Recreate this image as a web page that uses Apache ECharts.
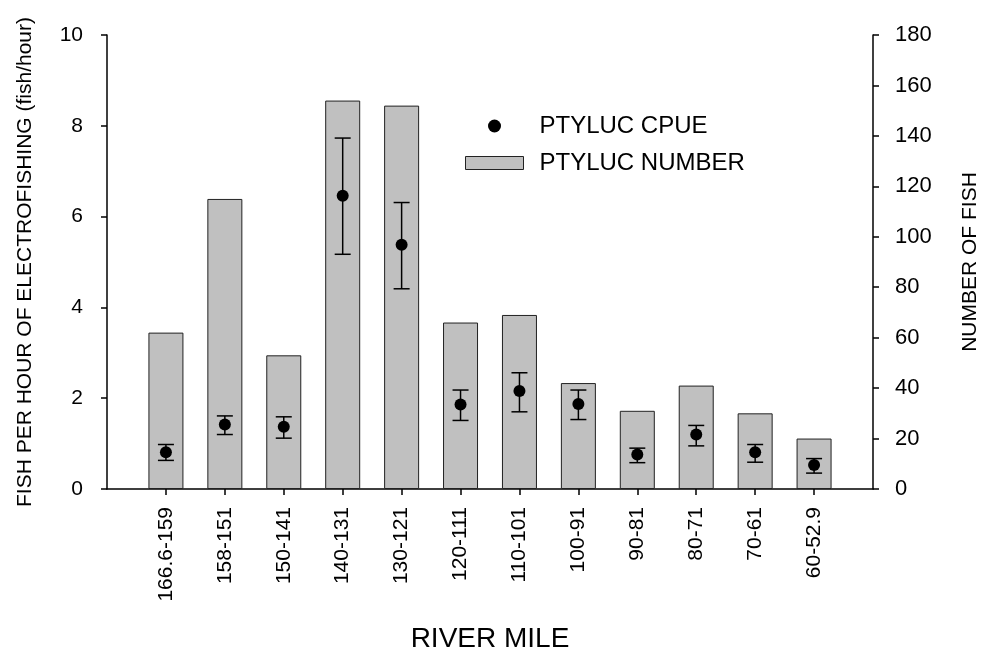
<!DOCTYPE html>
<html>
<head>
<meta charset="utf-8">
<script src="https://cdn.jsdelivr.net/npm/echarts@6/dist/echarts.min.js"></script>
<style>
html, body { margin: 0; padding: 0; background: #fff; }
#chart { width: 984px; height: 651px; }
</style>
</head>
<body>
<div id="chart"></div>
<script>
// river mile reaches
var miles = ['166.6-159', '158-151', '150-141', '140-131', '130-121', '120-111',
             '110-101', '100-91', '90-81', '80-71', '70-61', '60-52.9'];
// catch per hour, with error bar ends
var cpue  = [0.81, 1.42, 1.37, 6.46, 5.38, 1.86, 2.16, 1.87, 0.76, 1.20, 0.81, 0.53];
var upper = [0.98, 1.61, 1.59, 7.73, 6.31, 2.18, 2.56, 2.18, 0.90, 1.40, 0.98, 0.67];
var lower = [0.63, 1.20, 1.12, 5.17, 4.41, 1.51, 1.70, 1.53, 0.58, 0.95, 0.59, 0.35];
// number of fish caught
var counts = [62, 115, 53, 154, 152, 66, 69, 42, 31, 41, 30, 20];

var font = 'Liberation Sans, Arial, sans-serif';

// empty slot at each end so the axis runs past the first and last bar
var cats = [''].concat(miles, ['']);
var barData = ['-'].concat(counts, ['-']);
var dotData = ['-'].concat(cpue, ['-']);
var errData = miles.map(function (m, i) { return [i + 1, lower[i], upper[i]]; });

var myChart = echarts.init(document.getElementById('chart'));

var option = {
  animation: false,
  textStyle: { fontFamily: font },
  grid: { left: 107, right: 111, top: 35, bottom: 162, containLabel: false, outerBoundsMode: 'none' },
  legend: {
    left: 460,
    top: 109,
    orient: 'vertical',
    itemWidth: 58,
    itemHeight: 13,
    itemGap: 13,
    textStyle: { fontFamily: font, fontSize: 24, color: '#000', lineHeight: 24, padding: [0, 0, 0, 11] },
    data: [
      { name: 'PTYLUC CPUE', icon: 'circle', itemStyle: { color: '#000', opacity: 1 } },
      { name: 'PTYLUC NUMBER', icon: 'rect', itemStyle: { color: '#c0c0c0', borderColor: '#222', borderWidth: 1 } }
    ]
  },
  xAxis: {
    type: 'category',
    data: cats,
    boundaryGap: false,
    name: 'RIVER MILE',
    nameLocation: 'middle',
    nameGap: 136,
    nameTextStyle: { fontFamily: font, fontSize: 28, color: '#000' },
    axisLine: { lineStyle: { color: '#000', width: 1.5 } },
    axisTick: {
      length: 6,
      lineStyle: { color: '#000', width: 1.5 },
      interval: function (idx) { return idx > 0 && idx < cats.length - 1; }
    },
    axisLabel: { rotate: 90, margin: 18, interval: 0, fontSize: 21, color: '#000' },
    splitLine: { show: false }
  },
  yAxis: [
    {
      type: 'value',
      min: 0, max: 10, interval: 2,
      name: 'FISH PER HOUR OF ELECTROFISHING (fish/hour)',
      nameLocation: 'middle',
      nameGap: 71,
      nameTextStyle: { fontFamily: font, fontSize: 21, color: '#000' },
      axisLine: { show: true, lineStyle: { color: '#000', width: 1.5 } },
      axisTick: { show: true, length: 6, lineStyle: { color: '#000', width: 1.5 } },
      axisLabel: { margin: 24, fontSize: 21, color: '#000' },
      splitLine: { show: false }
    },
    {
      type: 'value',
      min: 0, max: 180, interval: 20,
      name: 'NUMBER OF FISH',
      nameLocation: 'middle',
      nameRotate: 90,
      nameGap: 87,
      nameTextStyle: { fontFamily: font, fontSize: 21, color: '#000' },
      axisLine: { show: true, lineStyle: { color: '#000', width: 1.5 } },
      axisTick: { show: true, length: 6, lineStyle: { color: '#000', width: 1.5 } },
      axisLabel: { margin: 22, fontSize: 22, color: '#000' },
      splitLine: { show: false }
    }
  ],
  series: [
    {
      name: 'PTYLUC NUMBER',
      type: 'bar',
      yAxisIndex: 1,
      barWidth: 35,
      data: barData,
      itemStyle: { color: '#c0c0c0', borderColor: '#222', borderWidth: 1 },
      z: 1
    },
    {
      name: 'errors',
      type: 'custom',
      yAxisIndex: 0,
      data: errData,
      z: 3,
      renderItem: function (params, api) {
        var x = api.value(0);
        var lo = api.coord([x, api.value(1)]);
        var hi = api.coord([x, api.value(2)]);
        var w = 8;
        var style = { stroke: '#000', lineWidth: 1.5 };
        return {
          type: 'group',
          children: [
            { type: 'line', shape: { x1: lo[0], y1: lo[1], x2: hi[0], y2: hi[1] }, style: style },
            { type: 'line', shape: { x1: hi[0] - w, y1: hi[1], x2: hi[0] + w, y2: hi[1] }, style: style },
            { type: 'line', shape: { x1: lo[0] - w, y1: lo[1], x2: lo[0] + w, y2: lo[1] }, style: style }
          ]
        };
      }
    },
    {
      name: 'PTYLUC CPUE',
      type: 'scatter',
      yAxisIndex: 0,
      symbol: 'circle',
      symbolSize: 12,
      data: dotData,
      itemStyle: { color: '#000', opacity: 1 },
      z: 4
    }
  ]
};

myChart.setOption(option);
</script>
</body>
</html>
